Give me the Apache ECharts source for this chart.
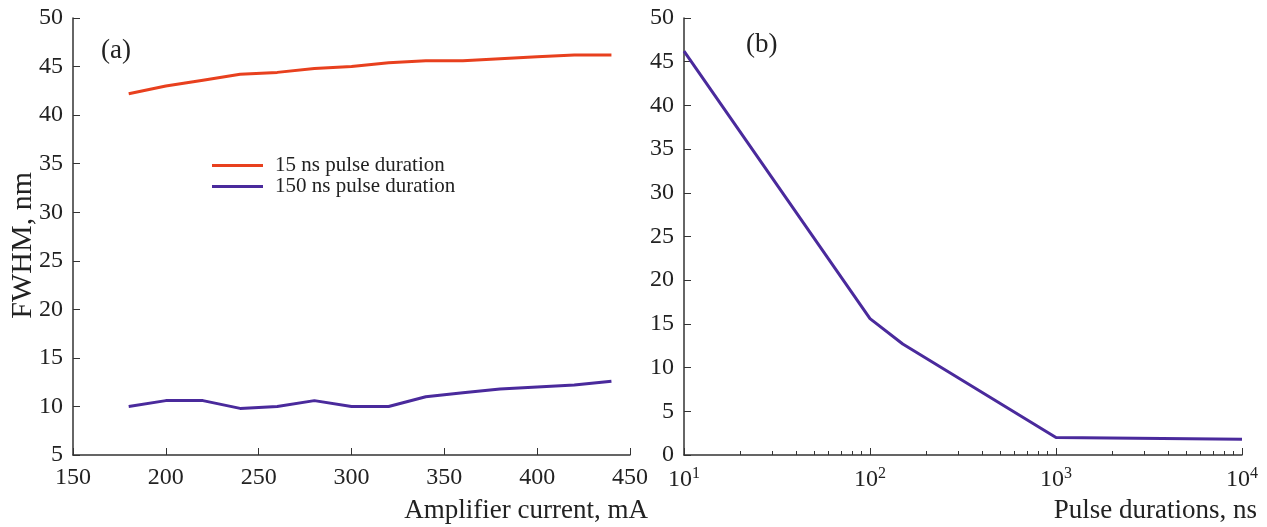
<!DOCTYPE html>
<html lang="en">
<head>
    <meta charset="UTF-8">
    <title>FWHM</title>
    <script src="https://cdn.jsdelivr.net/npm/echarts@6/dist/echarts.min.js"></script>
    <style>
        html, body { margin: 0; padding: 0; background: #fff; }
    </style>
</head>
<body>
<div id="myChart" style="width:1267px;height:527px"></div>
<script type="text/javascript">
    // panel (a): FWHM vs amplifier current
    var currents = [180, 200, 220, 240, 260, 280, 300, 320, 340, 360, 380, 400, 420, 440];
    var fwhm15ns = [42.2, 43.0, 43.6, 44.2, 44.4, 44.8, 45.0, 45.4, 45.6, 45.6, 45.8, 46.0, 46.2, 46.2];
    var fwhm150ns = [10.0, 10.6, 10.6, 9.8, 10.0, 10.6, 10.0, 10.0, 11.0, 11.4, 11.8, 12.0, 12.2, 12.6];
    // panel (b): FWHM vs pulse duration
    var durations = [10, 100, 150, 1000, 10000];
    var fwhmByDuration = [46.2, 15.6, 12.7, 2.0, 1.8];
    var minorTicks = [20, 30, 40, 50, 60, 70, 80, 90, 200, 300, 400, 500, 600, 700, 800, 900,
        2000, 3000, 4000, 5000, 6000, 7000, 8000, 9000];

    var red = '#e8401e';
    var purple = '#4a2a9c';
    var font = 'Liberation Serif';
    var axisCol = '#333';

    function pairs(xs, ys) {
        return xs.map(function (x, i) { return [x, ys[i]]; });
    }

    var lbl = { color: '#222', fontFamily: font, fontSize: 24, margin: 10 };

    var myChart = echarts.init(document.getElementById('myChart'));
    myChart.setOption({
        animation: false,
        grid: [
            { left: 73, right: 637, top: 18, bottom: 72 },
            { left: 684, right: 25, top: 18, bottom: 72 }
        ],
        legend: {
            left: 212, top: 155, orient: 'vertical', itemGap: 0, padding: 0,
            icon: 'rect', itemWidth: 51, itemHeight: 3,
            data: ['15 ns pulse duration', '150 ns pulse duration'],
            textStyle: { fontFamily: font, fontSize: 21, lineHeight: 21, color: '#222', padding: [0, 0, 0, 7] }
        },
        xAxis: [
            {
                gridIndex: 0, type: 'value', min: 150, max: 450, interval: 50,
                axisLine: { lineStyle: { color: axisCol, width: 1.5 } },
                axisTick: { inside: true, length: 7, lineStyle: { color: axisCol } },
                axisLabel: { color: '#222', fontFamily: font, fontSize: 24, margin: 11 },
                splitLine: { show: false }
            },
            {
                gridIndex: 1, type: 'log', logBase: 10, min: 10, max: 10000, position: 'bottom',
                axisLine: { lineStyle: { color: axisCol, width: 1.5 } },
                axisTick: { inside: true, length: 7, lineStyle: { color: axisCol } },
                axisLabel: {
                    color: '#222', fontFamily: font, fontSize: 24, margin: 11,
                    formatter: function (v) {
                        return '10{s|' + Math.round(Math.log10(v)) + '}';
                    },
                    rich: { s: { fontFamily: font, fontSize: 16, color: '#222', padding: [0, 0, 12, 0] } }
                },
                splitLine: { show: false }
            },
            {
                gridIndex: 1, type: 'log', logBase: 10, min: 10, max: 10000, position: 'bottom', offset: 0,
                axisLine: { show: false },
                axisTick: { inside: true, length: 4, customValues: minorTicks, lineStyle: { color: axisCol } },
                axisLabel: { show: false }, splitLine: { show: false }
            }
        ],
        yAxis: [
            {
                gridIndex: 0, type: 'value', min: 5, max: 50, interval: 5,
                axisLine: { show: true, lineStyle: { color: axisCol, width: 1.5 } },
                axisTick: { show: true, inside: true, length: 7, lineStyle: { color: axisCol } },
                axisLabel: lbl, splitLine: { show: false }
            },
            {
                gridIndex: 1, type: 'value', min: 0, max: 50, interval: 5,
                axisLine: { show: true, lineStyle: { color: axisCol, width: 1.5 } },
                axisTick: { show: true, inside: true, length: 7, lineStyle: { color: axisCol } },
                axisLabel: lbl, splitLine: { show: false }
            }
        ],
        graphic: [
            { type: 'text', left: 101, top: 37, style: { text: '(a)', fontFamily: font, fontSize: 27, fill: '#222' } },
            { type: 'text', left: 746, top: 31, style: { text: '(b)', fontFamily: font, fontSize: 27, fill: '#222' } },
            { type: 'text', right: 619, top: 497, style: { text: 'Amplifier current, mA', fontFamily: font, fontSize: 27, fill: '#222' } },
            { type: 'text', right: 10, top: 497, style: { text: 'Pulse durations, ns', fontFamily: font, fontSize: 27, fill: '#222' } },
            { type: 'text', left: 8, top: 172, rotation: Math.PI / 2, style: { text: 'FWHM, nm', fontFamily: font, fontSize: 30, fill: '#222' } }
        ],
        series: [
            {
                name: '15 ns pulse duration', type: 'line', xAxisIndex: 0, yAxisIndex: 0,
                data: pairs(currents, fwhm15ns), symbol: 'none',
                lineStyle: { color: red, width: 3 }, itemStyle: { color: red }
            },
            {
                name: '150 ns pulse duration', type: 'line', xAxisIndex: 0, yAxisIndex: 0,
                data: pairs(currents, fwhm150ns), symbol: 'none',
                lineStyle: { color: purple, width: 3 }, itemStyle: { color: purple }
            },
            {
                name: 'duration', type: 'line', xAxisIndex: 1, yAxisIndex: 1,
                data: pairs(durations, fwhmByDuration), symbol: 'none',
                lineStyle: { color: purple, width: 3 }, itemStyle: { color: purple }
            }
        ]
    });
</script>
</body>
</html>
